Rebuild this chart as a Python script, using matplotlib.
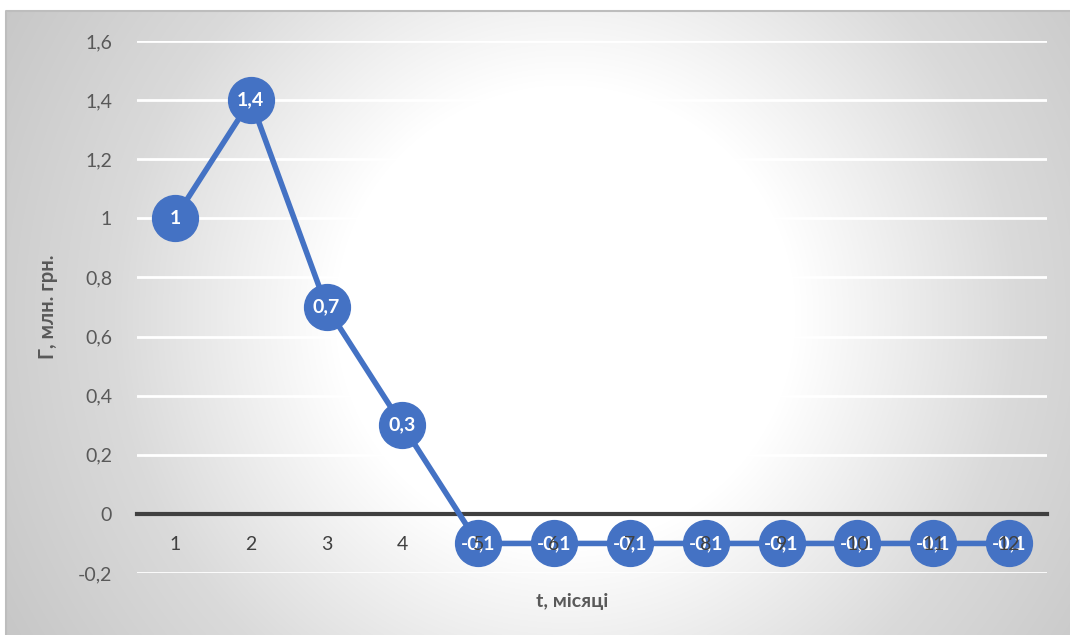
import numpy as np
import matplotlib
matplotlib.use("Agg")
import matplotlib.pyplot as plt

months = [1, 2, 3, 4, 5, 6, 7, 8, 9, 10, 11, 12]
values = [1.0, 1.4, 0.7, 0.3, -0.1, -0.1, -0.1, -0.1, -0.1, -0.1, -0.1, -0.1]
yticks = [-0.2, 0.0, 0.2, 0.4, 0.6, 0.8, 1.0, 1.2, 1.4, 1.6]
x_title = "t, місяці"
y_title = "Г, млн. грн."

plt.rcParams['font.family'] = ['Lato', 'DejaVu Sans']

def fmt(v):
    s = f"{v:g}"
    return s.replace(".", ",")

W, H = 1070, 635
fig = plt.figure(figsize=(W / 100, H / 100), dpi=100)
fig.patch.set_facecolor("white")

# radial gradient background (chart area)
bx0, by0 = 6, 11
bg = fig.add_axes([bx0 / W, 0, 1 - bx0 / W, 1 - by0 / H], zorder=-10)
gw, gh = W - bx0, H - by0
yy, xx = np.mgrid[0:gh, 0:gw]
cx, cy = 565 - bx0, 315 - by0
d = np.sqrt((xx - cx) ** 2 + (yy - cy) ** 2)
g = np.interp(d, [0, 230, 450, 680], [1.0, 1.0, 0.855, 0.765])
img = np.dstack([g, g, g])
bg.imshow(img, aspect="auto", interpolation="bilinear")
bg.set_axis_off()
# border
fig.add_artist(plt.Line2D([bx0 / W, bx0 / W, 1], [0, 1 - by0 / H, 1 - by0 / H],
                          transform=fig.transFigure, color="#bdbdbd", lw=1.5))

left, right = 137 / W, 1047 / W
top, bottom = 1 - 41 / H, 1 - 573 / H
ax = fig.add_axes([left, bottom, right - left, top - bottom])
ax.patch.set_alpha(0)

ax.set_xlim(0.5, 12.5)
ax.set_ylim(-0.2, 1.6)
ax.set_yticks(yticks)
ax.set_yticklabels([fmt(v) for v in yticks])
ax.grid(axis="y", color="white", lw=2)
ax.set_axisbelow(True)

for s in ["left", "right", "top"]:
    ax.spines[s].set_visible(False)
ax.spines["bottom"].set_position(("data", 0))
ax.spines["bottom"].set_color("#404040")
ax.spines["bottom"].set_linewidth(3)
ax.spines["bottom"].set_zorder(1)

ax.set_xticks(months)
ax.set_xticklabels([])
ax.tick_params(axis="x", length=0)
ax.tick_params(axis="y", length=0, pad=18, labelsize=14, labelcolor="#595959")

ax.plot(months, values, color="#4472C4", lw=4, marker="o", markersize=33,
        markerfacecolor="#4472C4", markeredgecolor="#4472C4", zorder=3,
        solid_joinstyle="miter", clip_on=False)

for m, v in zip(months, values):
    ax.text(m, v, fmt(v), ha="center", va="center", color="white",
            fontsize=14, fontweight="bold", zorder=6)

# category labels (drawn above markers and data labels, as in the reference)
for m in months:
    ax.annotate(str(m), xy=(m, 0), xytext=(0, -22), textcoords="offset points",
                ha="center", va="center", fontsize=14, color="#404040", zorder=7)

ax.set_xlabel(x_title, fontsize=14, fontweight="bold", color="#595959")
ax.xaxis.set_label_coords((572 - 137) / (1047 - 137), -(593 - 573) / (573 - 41))
ax.set_ylabel(y_title, fontsize=14.5, fontweight="bold", color="#595959")
ax.yaxis.set_label_coords(-(137 - 58) / (1047 - 137), 0.5)

fig.savefig("out.png", dpi=100)
